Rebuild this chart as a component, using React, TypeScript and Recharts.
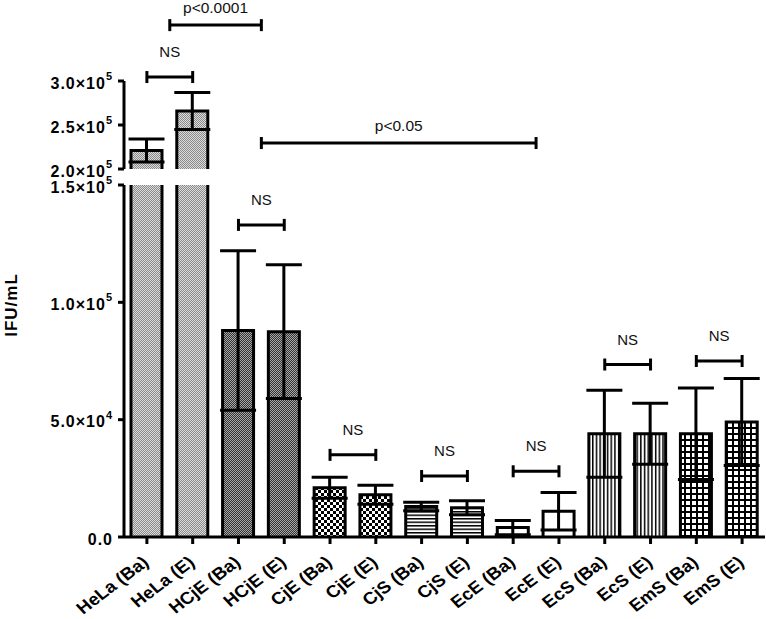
import React from 'react';
import { BarChart, Bar, XAxis, YAxis, ErrorBar, ReferenceLine } from 'recharts';

// values (IFU/mL, mean and SD)
const categories = [
  'HeLa (Ba)', 'HeLa (E)', 'HCjE (Ba)', 'HCjE (E)', 'CjE (Ba)', 'CjE (E)', 'CjS (Ba)',
  'CjS (E)', 'EcE (Ba)', 'EcE (E)', 'EcS (Ba)', 'EcS (E)', 'EmS (Ba)', 'EmS (E)',
];
const means = [221000, 266000, 88000, 87500, 21000, 18000, 13000, 12500, 4000, 11000, 44000, 44000, 44000, 49000];
const errors = [13000, 21000, 34000, 28500, 4500, 4000, 1800, 3000, 3000, 8000, 18500, 13000, 19500, 18500];

// broken y axis: two segments
const topDomain = [200000, 300000];
const topTicks = [200000, 250000, 300000];
const bottomDomain = [0, 150000];
const bottomTicks = [0, 50000, 100000, 150000];

// significance brackets (from/to are bars or whole groups)
const brackets = [
  { from: 'HeLa (Ba)', to: 'HeLa (E)', y: 304500, label: 'NS' },
  { from: 'HeLa', to: 'HCjE', y: 363500, label: 'p<0.0001' },
  { from: 'HCjE', to: 'EcE', y: 229500, label: 'p<0.05' },
  { from: 'HCjE (Ba)', to: 'HCjE (E)', y: 133000, label: 'NS' },
  { from: 'CjE (Ba)', to: 'CjE (E)', y: 35000, label: 'NS' },
  { from: 'CjS (Ba)', to: 'CjS (E)', y: 26000, label: 'NS' },
  { from: 'EcE (Ba)', to: 'EcE (E)', y: 28000, label: 'NS' },
  { from: 'EcS (Ba)', to: 'EcS (E)', y: 73500, label: 'NS' },
  { from: 'EmS (Ba)', to: 'EmS (E)', y: 75000, label: 'NS' },
];

const data = categories.map((name, i) => ({ name, mean: means[i], err: errors[i] }));

const groupOf = (name: string) => name.split(' ')[0];

const FONT = '"Liberation Sans", Arial, sans-serif';

const Patterns = () => (
  <svg width={0} height={0} style={{ position: 'absolute' }}>
    <defs>
      <pattern id="pat-HeLa" width={2} height={2} patternUnits="userSpaceOnUse">
        <rect width={2} height={2} fill="#dcdcdc" />
        <rect width={1} height={1} fill="#8a8a8a" />
        <rect x={1} y={1} width={1} height={1} fill="#8a8a8a" />
      </pattern>
      <pattern id="pat-HCjE" width={2} height={2} patternUnits="userSpaceOnUse">
        <rect width={2} height={2} fill="#a8a8a8" />
        <rect width={1} height={1} fill="#333" />
        <rect x={1} y={1} width={1} height={1} fill="#333" />
      </pattern>
      <pattern id="pat-CjE" width={6} height={6} patternUnits="userSpaceOnUse">
        <rect width={6} height={6} fill="#000" />
        <rect width={3} height={3} fill="#fff" />
        <rect x={3} y={3} width={3} height={3} fill="#fff" />
      </pattern>
      <pattern id="pat-CjS" width={4} height={3.5} patternUnits="userSpaceOnUse">
        <rect width={4} height={3.5} fill="#fff" />
        <rect width={4} height={1.5} fill="#000" />
      </pattern>
      <pattern id="pat-EcE" width={4} height={4} patternUnits="userSpaceOnUse">
        <rect width={4} height={4} fill="#fff" />
      </pattern>
      <pattern id="pat-EcS" width={3.7} height={4} patternUnits="userSpaceOnUse">
        <rect width={3.7} height={4} fill="#fff" />
        <rect width={1.5} height={4} fill="#000" />
      </pattern>
      <pattern id="pat-EmS" width={6} height={6} patternUnits="userSpaceOnUse">
        <rect width={6} height={6} fill="#fff" />
        <rect width={6} height={2} fill="#000" />
        <rect width={2} height={6} fill="#000" />
      </pattern>
    </defs>
  </svg>
);

// bar: pattern fill with black left/top/right edges (no bottom, for the broken axis)
// bars whose value is under the segment's floor are not drawn in that segment
const makeBarShape = (floor: number) => (props: any) => {
  if (props.payload.mean < floor) return <g />;
  let { x, y, width, height } = props;
  if (height < 0) {
    y = y + height;
    height = -height;
  }
  const fill = `url(#pat-${groupOf(props.payload.name)})`;
  return (
    <g>
      <rect x={x} y={y} width={width} height={height} fill={fill} />
      <path
        d={`M${x},${y + height}V${y}H${x + width}V${y + height}`}
        fill="none"
        stroke="#000"
        strokeWidth={3}
      />
    </g>
  );
};

const BracketShape = (props: any) => {
  const { x1, y1, x2, y2 } = props;
  return (
    <g stroke="#000" strokeWidth={3}>
      <line x1={x1} y1={y1} x2={x2} y2={y2} />
      <line x1={x1} y1={y1 - 6} x2={x1} y2={y1 + 6} />
      <line x1={x2} y1={y2 - 6} x2={x2} y2={y2 + 6} />
    </g>
  );
};

const YTick = ({ x, y, payload }: any) => {
  const v = payload.value;
  const common = {
    x: x - 3,
    y,
    dy: 7.5,
    textAnchor: 'end' as const,
    fontSize: 16,
    fontWeight: 'bold',
    letterSpacing: 1,
    fill: '#000',
  };
  if (v === 0) return <text {...common}>0.0</text>;
  const exp = Math.floor(Math.log10(v));
  const mant = (v / 10 ** exp).toFixed(1);
  return (
    <text {...common}>
      {mant}×10
      <tspan fontSize={11} dy={-8.5}>
        {exp}
      </tspan>
    </text>
  );
};

const XTick = ({ x, y, payload }: any) => (
  <g transform={`translate(${x + 3},${y + 18}) scale(1.1,1)`}>
    <text transform="rotate(-40)" textAnchor="end" fontSize={17} fontWeight="bold" fill="#000">
      {payload.value}
    </text>
  </g>
);

const YTitle = (props: any) => {
  const vb = props.viewBox || { x: 14, y: 10, height: 352 };
  const cx = 11;
  const cy = vb.y + vb.height / 2 - 56;
  return (
    <text
      x={cx}
      y={cy}
      transform={`rotate(-90, ${cx}, ${cy})`}
      textAnchor="middle"
      dominantBaseline="central"
      fontSize={17}
      fontWeight="bold"
      letterSpacing={1}
      fill="#000"
    >
      IFU/mL
    </text>
  );
};

// a group bracket runs between group centres, i.e. the right edge of each group's (Ba) band
const renderBrackets = (list: typeof brackets) =>
  list.map((b, i) => {
    const isGroup = !categories.includes(b.from);
    const x1 = isGroup ? `${b.from} (Ba)` : b.from;
    const x2 = isGroup ? `${b.to} (Ba)` : b.to;
    return (
      <ReferenceLine
        key={i}
        xAxisId="cat"
        segment={[
          { x: x1, y: b.y },
          { x: x2, y: b.y },
        ]}
        position={isGroup ? 'end' : 'middle'}
        ifOverflow="visible"
        shape={BracketShape}
        label={{
          value: b.label,
          position: 'top',
          offset: b.label === 'NS' ? 20 : 12,
          fontSize: b.label === 'NS' ? 15 : 15.5,
          fill: '#111',
        }}
      />
    );
  });

const W = 766;
const axisStyle = { stroke: '#000', strokeWidth: 3 };

export default function App() {
  const topBrackets = brackets.filter((b) => b.y >= topDomain[0]);
  const bottomBrackets = brackets.filter((b) => b.y < topDomain[0]);

  return (
    <div style={{ position: 'absolute', left: 0, top: 0, width: W, height: 619, background: '#fff', fontFamily: FONT }}>
      <Patterns />
      <div style={{ position: 'absolute', left: 0, top: 175 }}>
        <BarChart width={W} height={444} data={data} margin={{ top: 10, right: 1, bottom: 0, left: 14 }}>
          <XAxis
            xAxisId="cat"
            dataKey="name"
            type="category"
            height={82}
            interval={0}
            axisLine={axisStyle}
            tickLine={axisStyle}
            tickSize={7}
            tick={<XTick />}
          />
          <YAxis
            domain={bottomDomain}
            ticks={bottomTicks}
            interval={0}
            allowDataOverflow
            width={110}
            axisLine={axisStyle}
            tickLine={axisStyle}
            tickSize={6}
            tick={<YTick />}
            label={{ value: 'IFU/mL', content: YTitle }}
          />
          <Bar xAxisId="cat" dataKey="mean" barSize={31} shape={makeBarShape(bottomDomain[0])} isAnimationActive={false}>
            <ErrorBar dataKey="err" width={18} strokeWidth={3} stroke="#000" />
          </Bar>
          {renderBrackets(bottomBrackets)}
        </BarChart>
      </div>
      <div style={{ position: 'absolute', left: 0, top: 0 }}>
        <BarChart width={W} height={181} data={data} margin={{ top: 81, right: 1, bottom: 12, left: 14 }}>
          <XAxis xAxisId="cat" dataKey="name" type="category" hide />
          <YAxis
            domain={topDomain}
            ticks={topTicks}
            interval={0}
            allowDataOverflow
            width={110}
            axisLine={axisStyle}
            tickLine={axisStyle}
            tickSize={6}
            tick={<YTick />}
          />
          <Bar xAxisId="cat" dataKey="mean" barSize={31} shape={makeBarShape(topDomain[0])} isAnimationActive={false}>
            <ErrorBar dataKey="err" width={18} strokeWidth={3} stroke="#000" />
          </Bar>
          {renderBrackets(topBrackets)}
        </BarChart>
      </div>
    </div>
  );
}
